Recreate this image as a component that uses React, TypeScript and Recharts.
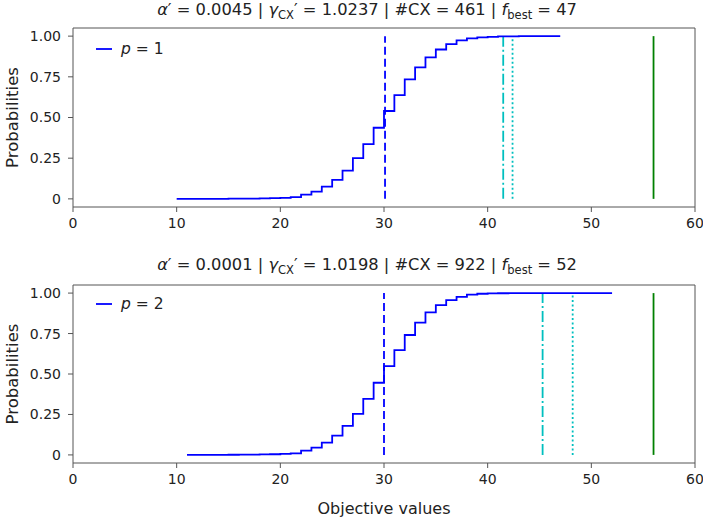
import React from 'react';
import { LineChart, Line, XAxis, YAxis, ReferenceLine, Legend } from 'recharts';

const FONT = '"DejaVu Sans", sans-serif';

const xTicks = [0, 10, 20, 30, 40, 50, 60];
const yTicks = [0, 0.25, 0.5, 0.75, 1];
const yTickLabels = ['0', '0.25', '0.50', '0.75', '1.00'];
const xDomain = [0, 60];
const yDomain = [-0.05, 1.05];

const objectiveP1 = [10, 11, 12, 13, 14, 15, 16, 17, 18, 19, 20, 21, 22, 23, 24, 25, 26, 27, 28, 29, 30, 31, 32, 33, 34, 35, 36, 37, 38, 39, 40, 41, 42, 43, 44, 45, 46, 47];
const cdfP1 = [0, 0, 0, 0, 0.0005, 0.001, 0.0015, 0.002, 0.003, 0.004, 0.006, 0.011, 0.026, 0.045, 0.075, 0.117, 0.174, 0.25, 0.337, 0.437, 0.54, 0.638, 0.734, 0.808, 0.869, 0.918, 0.951, 0.974, 0.986, 0.992, 0.996, 0.998, 0.999, 1, 1, 1, 1, 1];

const objectiveP2 = [11, 12, 13, 14, 15, 16, 17, 18, 19, 20, 21, 22, 23, 24, 25, 26, 27, 28, 29, 30, 31, 32, 33, 34, 35, 36, 37, 38, 39, 40, 41, 42, 43, 44, 45, 46, 47, 48, 49, 50, 51, 52];
const cdfP2 = [0, 0, 0, 0.0005, 0.001, 0.0015, 0.002, 0.003, 0.004, 0.006, 0.01, 0.027, 0.045, 0.076, 0.119, 0.179, 0.253, 0.346, 0.446, 0.549, 0.648, 0.741, 0.817, 0.881, 0.926, 0.957, 0.977, 0.99, 0.996, 0.998, 0.999, 1, 1, 1, 1, 1, 1, 1, 1, 1, 1, 1];

const meanValues = [30.1, 30.0];
const dashDotValues = [41.5, 45.3];
const dottedValues = [42.4, 48.2];
const optimumValues = [56, 56];

const alphaValues = ['0.0045', '0.0001'];
const gammaValues = ['1.0237', '1.0198'];
const cxCounts = ['461', '922'];
const fBestValues = ['47', '52'];
const legendLabels = ['1', '2'];

const dataP1 = objectiveP1.map((x, i) => ({ x, y: cdfP1[i] }));
const dataP2 = objectiveP2.map((x, i) => ({ x, y: cdfP2[i] }));

const AXIS = '#555';
const TEXT = '#222';
const BLUE = '#0000ff';
const CYAN = '#00bfbf';
const GREEN = '#008000';

type PanelProps = {
  idx: number;
  data: { x: number; y: number }[];
  top: number;
  height: number;
  marginTop: number;
  xAxisHeight: number;
  legendTop: number;
  titleY: number;
  showXLabel: boolean;
};

function Panel({ idx, data, top, height, marginTop, xAxisHeight, legendTop, titleY, showXLabel }: PanelProps) {
  const plotTop = marginTop;
  const plotBottom = height - xAxisHeight;
  const yMid = (plotTop + plotBottom) / 2;
  const legendContent = () => (
    <div style={{ display: 'flex', alignItems: 'center', fontFamily: FONT, fontSize: 15.5, color: TEXT, whiteSpace: 'nowrap' }}>
      <svg width={17} height={4} style={{ display: 'block' }}>
        <line x1={0} y1={2} x2={16} y2={2} stroke={BLUE} strokeWidth={1.8} />
      </svg>
      <span style={{ marginLeft: 8 }}>
        <i>p</i> = {legendLabels[idx]}
      </span>
    </div>
  );
  return (
    <div style={{ position: 'absolute', left: 0, top, width: 703, height }}>
      <LineChart width={703} height={height} data={data} margin={{ top: marginTop, right: 8, left: 0, bottom: 0 }}>
        <XAxis
          dataKey="x"
          type="number"
          domain={xDomain}
          ticks={xTicks}
          interval={0}
          height={xAxisHeight}
          tickSize={5}
          tickMargin={6}
          stroke={AXIS}
          tick={{ fontSize: 14, fill: TEXT, fontFamily: FONT }}
        />
        <YAxis
          type="number"
          domain={yDomain}
          ticks={yTicks}
          interval={0}
          width={73}
          tickSize={5}
          tickMargin={7}
          stroke={AXIS}
          tickFormatter={(v: number) => yTickLabels[yTicks.indexOf(v)] ?? String(v)}
          tick={{ fontSize: 14, fill: TEXT, fontFamily: FONT }}
        />
        <ReferenceLine y={yDomain[1]} stroke={AXIS} strokeWidth={1} ifOverflow="visible" />
        <ReferenceLine x={xDomain[1]} stroke={AXIS} strokeWidth={1} ifOverflow="visible" />
        <ReferenceLine segment={[{ x: meanValues[idx], y: 0 }, { x: meanValues[idx], y: 1 }]} stroke={BLUE} strokeWidth={1.8} strokeDasharray="8 4" />
        <ReferenceLine segment={[{ x: dashDotValues[idx], y: 0 }, { x: dashDotValues[idx], y: 1 }]} stroke={CYAN} strokeWidth={1.8} strokeDasharray="11 3 2 3" />
        <ReferenceLine segment={[{ x: dottedValues[idx], y: 0 }, { x: dottedValues[idx], y: 1 }]} stroke={CYAN} strokeWidth={1.8} strokeDasharray="2 2.5" />
        <ReferenceLine segment={[{ x: optimumValues[idx], y: 0 }, { x: optimumValues[idx], y: 1 }]} stroke={GREEN} strokeWidth={1.8} />
        <Line type="stepAfter" dataKey="y" stroke={BLUE} strokeWidth={1.8} dot={false} isAnimationActive={false} />
        <Legend
          layout="vertical"
          align="center"
          verticalAlign="middle"
          content={legendContent}
          wrapperStyle={{ left: 96, top: legendTop, width: 'auto' }}
        />
      </LineChart>
      <svg width={703} height={height} style={{ position: 'absolute', left: 0, top: 0, pointerEvents: 'none' }}>
        <text x={367} y={titleY} textAnchor="middle" fontSize={16.3} fontFamily={FONT} fill={TEXT}>
          <tspan fontStyle="italic">α</tspan>
          <tspan>′ = {alphaValues[idx]} | </tspan>
          <tspan fontStyle="italic">γ</tspan>
          <tspan fontSize={11.5} dy={4}>CX</tspan>
          <tspan dy={-4}>′ = {gammaValues[idx]} | #CX = {cxCounts[idx]} | </tspan>
          <tspan fontStyle="italic">f</tspan>
          <tspan fontSize={11.5} dy={4}>best</tspan>
          <tspan dy={-4}> = {fBestValues[idx]}</tspan>
        </text>
        <text
          x={12}
          y={yMid}
          transform={`rotate(-90 12 ${yMid})`}
          textAnchor="middle"
          dominantBaseline="central"
          fontSize={16.5}
          fontFamily={FONT}
          fill={TEXT}
        >
          Probabilities
        </text>
        {showXLabel && (
          <text x={384} y={height - 6} textAnchor="middle" fontSize={16} fontFamily={FONT} fill={TEXT}>
            Objective values
          </text>
        )}
      </svg>
    </div>
  );
}

export default function App() {
  return (
    <div style={{ position: 'absolute', left: 0, top: 0, width: 703, height: 520, background: '#fff' }}>
      <Panel idx={0} data={dataP1} top={0} height={237} marginTop={28} xAxisHeight={30} legendTop={40} titleY={15} showXLabel={false} />
      <Panel idx={1} data={dataP2} top={240} height={280} marginTop={45} xAxisHeight={57} legendTop={55} titleY={30} showXLabel={true} />
    </div>
  );
}
